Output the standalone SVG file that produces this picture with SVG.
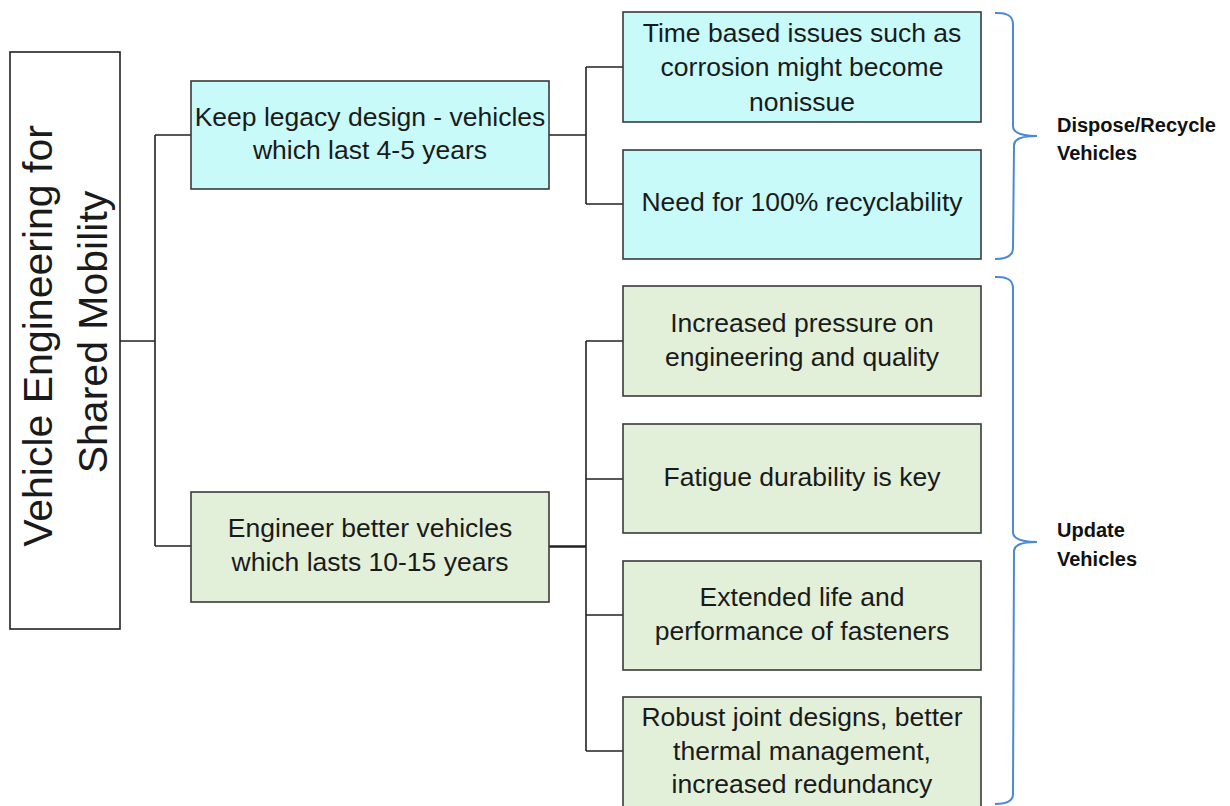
<svg xmlns="http://www.w3.org/2000/svg" width="1230" height="806" viewBox="0 0 1230 806">
<style>
  .box { stroke: #3a3a3a; stroke-width: 1.6; }
  .cyan { fill: #c8fafa; }
  .green { fill: #e2f0d9; }
  .root { fill: #ffffff; stroke: #222222; stroke-width: 1.6; }
  .t { font-family: "Liberation Sans", Arial, sans-serif; font-size: 26.5px; fill: #1a1a1a; text-anchor: middle; }
  .rt { font-family: "Liberation Sans", Arial, sans-serif; font-size: 41px; fill: #1a1a1a; text-anchor: middle; }
  .lbl { font-family: "Liberation Sans", Arial, sans-serif; font-size: 20px; font-weight: bold; fill: #111111; }
  .conn { fill: none; stroke: #222222; stroke-width: 1.6; }
  .brace { fill: none; stroke: #4a8ad4; stroke-width: 2; }
</style>
<rect width="1230" height="806" fill="#ffffff"/>

<g id="connectors">
  <path class="conn" d="M120,341 H155 M155,135 V546 M155,135 H191 M155,546 H191"/>
  <path class="conn" d="M549,135 H586 M586,67 V204 M586,67 H623 M586,204 H623"/>
  <path class="conn" d="M549,546.5 H586" style="stroke-width:2.6"/>
  <path class="conn" d="M586,341 V751 M586,341 H623 M586,479 H623 M586,615 H623 M586,751 H623"/>
</g>

<g id="root">
  <rect class="root" x="10" y="52" width="110" height="577"/>
  <text class="rt" transform="translate(52,336) rotate(-90)">Vehicle Engineering for</text>
  <text class="rt" transform="translate(107,332) rotate(-90)">Shared Mobility</text>
</g>

<g id="keep-legacy">
  <rect class="box cyan" x="191" y="81" width="358" height="108"/>
  <text class="t" x="370" y="126">Keep legacy design - vehicles</text>
  <text class="t" x="370" y="159">which last 4-5 years</text>
</g>

<g id="time-based">
  <rect class="box cyan" x="623" y="12" width="358" height="110"/>
  <text class="t" x="802" y="41.5">Time based issues such as</text>
  <text class="t" x="802" y="76">corrosion might become</text>
  <text class="t" x="802" y="110.5">nonissue</text>
</g>

<g id="recyclability">
  <rect class="box cyan" x="623" y="150" width="358" height="109"/>
  <text class="t" x="802" y="211">Need for 100% recyclability</text>
</g>

<g id="engineer-better">
  <rect class="box green" x="191" y="492" width="358" height="110"/>
  <text class="t" x="370" y="537">Engineer better vehicles</text>
  <text class="t" x="370" y="571">which lasts 10-15 years</text>
</g>

<g id="pressure">
  <rect class="box green" x="623" y="286" width="358" height="110"/>
  <text class="t" x="802" y="332">Increased pressure on</text>
  <text class="t" x="802" y="366">engineering and quality</text>
</g>

<g id="fatigue">
  <rect class="box green" x="623" y="424" width="358" height="109"/>
  <text class="t" x="802" y="486">Fatigue durability is key</text>
</g>

<g id="fasteners">
  <rect class="box green" x="623" y="561" width="358" height="109"/>
  <text class="t" x="802" y="606">Extended life and</text>
  <text class="t" x="802" y="640">performance of fasteners</text>
</g>

<g id="robust">
  <rect class="box green" x="623" y="697" width="358" height="112"/>
  <text class="t" x="802" y="726">Robust joint designs, better</text>
  <text class="t" x="802" y="760">thermal management,</text>
  <text class="t" x="802" y="793">increased redundancy</text>
</g>

<g id="dispose-brace">
  <path class="brace" d="M995,13 Q1013,12 1013,24 L1013,126 Q1013,136 1037,136 Q1013,136 1014,146 L1013,248 Q1013,259 995,259"/>
  <text class="lbl" x="1057" y="132">Dispose/Recycle</text>
  <text class="lbl" x="1057" y="160">Vehicles</text>
</g>

<g id="update-brace">
  <path class="brace" d="M995,277 Q1013,276 1013,288 L1013,532 Q1013,542 1037,542 Q1013,542 1014,552 L1013,794 Q1013,804 995,804"/>
  <text class="lbl" x="1057" y="537">Update</text>
  <text class="lbl" x="1057" y="566">Vehicles</text>
</g>
</svg>
